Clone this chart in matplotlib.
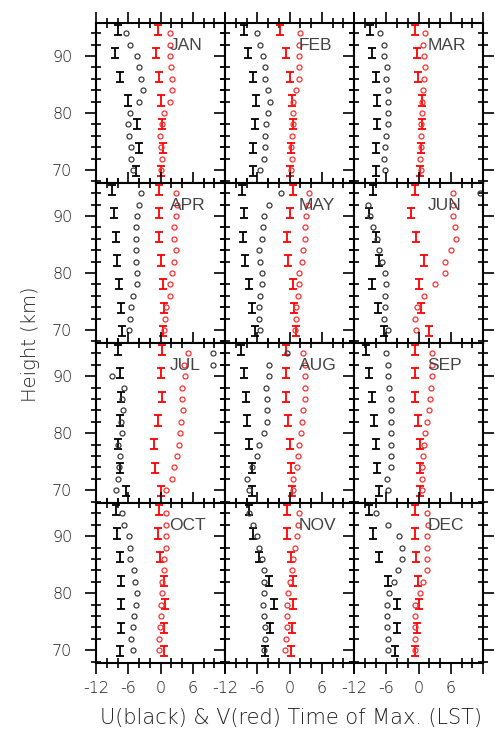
import matplotlib
matplotlib.use('Agg')
import matplotlib.pyplot as plt
from matplotlib.ticker import MultipleLocator

plt.rcParams['font.family'] = ['Liberation Sans', 'DejaVu Sans']

months = ['JAN', 'FEB', 'MAR', 'APR', 'MAY', 'JUN',
          'JUL', 'AUG', 'SEP', 'OCT', 'NOV', 'DEC']

# heights (km) of the circle profiles, top to bottom
heights_circ = [94, 92, 90, 88, 86, 84, 82, 80, 78, 76, 74, 72, 70]
# heights (km) of the I-bar profiles, top to bottom
heights_bar = [94.6, 90.5, 86.3, 82.2, 78.1, 73.9, 69.8]
bar_half_height = 0.9

# U (black) circles: time of maximum (LST), one row per month
u_circ = [
    [-6.5, -5.6, -4.4, -4.0, -3.7, -3.2, -4.0, -5.6, -6.0, -5.9, -5.4, -5.4, -5.2],
    [-6.0, -5.4, -5.0, -4.6, -4.5, -4.0, -3.6, -4.0, -4.4, -4.6, -4.5, -4.8, -5.4],
    [-7.1, -6.5, -6.5, -5.9, -6.0, -5.6, -5.6, -5.7, -5.7, -6.0, -6.2, -6.5, -6.3],
    [-3.7, -4.0, -4.3, -4.5, -4.5, -4.5, -4.5, -4.4, -4.4, -5.2, -5.4, -5.6, -5.9],
    [-1.5, -3.9, -4.8, -5.0, -5.2, -5.6, -5.4, -5.2, -5.1, -5.4, -5.7, -5.7, -5.4],
    [11.4, -9.4, -9.0, -8.5, -7.7, -7.4, -6.8, -6.3, -6.0, -6.2, -6.2, -6.5, -5.7],
    [9.7, 9.7, -9.0, -6.8, -7.1, -6.9, -7.3, -7.1, -8.0, -7.5, -7.7, -8.0, -8.3],
    [-0.5, -3.8, -3.9, -4.4, -4.2, -4.2, -4.2, -4.8, -5.7, -6.0, -7.0, -7.9, -7.5],
    [-6.0, -5.7, -5.6, -5.4, -5.2, -5.2, -5.2, -5.2, -5.2, -5.1, -5.2, -5.9, -5.7],
    [-7.1, -6.7, -5.9, -5.7, -5.6, -4.9, -4.8, -4.4, -4.6, -4.9, -5.1, -5.4, -5.1],
    [-7.6, -6.7, -6.0, -5.7, -5.2, -4.8, -4.8, -4.8, -5.0, -4.8, -4.6, -4.6, -4.8],
    [-8.0, -5.6, -3.7, -3.1, -3.1, -3.8, -4.6, -5.4, -5.9, -5.9, -5.9, -5.7, -5.6],
]

# V (red) circles
v_circ = [
    [1.7, 1.85, 1.85, 2.0, 2.2, 2.2, 1.7, 0.7, 0.2, -0.1, 0.0, 0.2, 0.0],
    [2.0, 1.85, 1.8, 1.8, 1.7, 1.2, 0.7, 0.6, 0.7, 0.4, 0.25, 0.4, 0.3],
    [1.2, 0.9, 1.1, 1.2, 1.1, 0.9, 0.7, 0.6, 0.5, 0.5, 0.4, 0.3, 0.5],
    [2.8, 3.0, 2.9, 2.6, 2.5, 2.8, 2.5, 2.2, 1.85, 1.7, 1.1, 0.9, 0.7],
    [3.6, 3.4, 3.1, 2.9, 2.8, 2.6, 2.4, 1.8, 1.7, 1.5, 1.2, 1.2, 1.0],
    [6.5, 6.5, 6.5, 6.7, 6.9, 6.0, 4.9, 4.9, 3.0, 1.05, -0.3, -0.6, -0.4],
    [5.2, 4.3, 4.6, 4.0, 4.0, 4.2, 3.8, 3.6, 3.4, 3.1, 2.6, 2.2, 1.1],
    [2.6, 2.9, 2.9, 2.8, 2.8, 2.6, 2.4, 2.2, 1.8, 1.5, 1.4, 0.7, 0.7],
    [2.5, 2.6, 2.6, 2.3, 2.2, 1.9, 1.6, 1.2, 1.05, 0.9, 0.6, 0.6, 0.6],
    [1.1, 1.1, 1.1, 1.1, 0.7, 0.7, 0.3, 0.3, 0.1, 0.1, -0.1, -0.2, -0.3],
    [1.7, 1.5, 1.4, 1.05, 0.7, 0.4, 0.1, -0.2, -0.5, -0.5, -0.5, -0.7, -0.8],
    [1.5, 1.7, 1.5, 1.5, 1.5, 1.5, 0.9, 0.3, -0.6, -0.7, -0.6, -0.6, -0.6],
]

# U (black) I-bars
u_bar = [
    [-8.0, -8.5, -7.5, -6.0, -4.4, -4.0, -4.6],
    [-8.4, -7.7, -6.7, -6.2, -6.4, -6.7, -6.8],
    [-9.0, -8.6, -7.9, -7.7, -7.7, -8.0, -7.9],
    [-9.1, -8.6, -8.3, -8.1, -7.7, -7.4, -7.1],
    [-8.8, -8.5, -8.7, -8.2, -7.6, -7.0, -6.5],
    [-8.5, -9.3, -7.9, -7.4, -8.6, -7.5, -6.5],
    [-8.0, -7.5, -7.3, -7.5, -8.0, -7.5, -6.5],
    [-9.1, -8.5, -8.1, -7.9, -7.5, -6.9, -6.9],
    [-9.8, -9.3, -8.6, -8.3, -7.9, -7.7, -7.4],
    [-8.3, -8.1, -7.5, -7.3, -7.3, -7.4, -7.5],
    [-7.6, -6.7, -5.7, -3.9, -2.8, -3.6, -4.6],
    [-9.3, -8.5, -7.3, -5.6, -4.0, -4.0, -4.4],
]

# V (red) I-bars
v_bar = [
    [-0.5, -0.9, -0.2, 0.1, 0.3, 0.4, 0.0],
    [-1.7, -0.6, 0.1, 0.4, 0.6, 0.3, 0.1],
    [-0.6, -0.3, -0.1, 0.6, 0.6, 0.5, 0.3],
    [-0.2, -0.2, -0.2, 0.1, 0.5, 0.7, 0.5],
    [0.7, 0.1, -0.5, -0.2, 0.6, 0.9, 1.2],
    [-0.6, -1.4, -0.5, 1.1, 0.0, 0.5, 1.9],
    [0.2, 0.0, 0.3, -0.5, -1.2, -1.1, 0.0],
    [-0.6, -0.7, -0.6, -0.2, 0.1, 0.25, 0.4],
    [-0.6, -0.6, -0.6, -0.1, 0.3, 0.3, 0.3],
    [-0.3, -0.4, -0.1, 0.6, 0.9, 0.7, 0.6],
    [-0.5, -0.5, 0.3, 0.7, 0.7, 0.4, 0.3],
    [-0.6, -0.6, -0.5, -0.1, 0.0, -0.3, -0.6],
]

x_ticks = [-12, -6, 0, 6, 12]
x_ticklabels = ['-12', '-6', '0', '6', '']
y_ticks = [70, 80, 90]
y_ticklabels = ['70', '80', '90']

W, H = 495, 738
fig = plt.figure(figsize=(W / 100, H / 100), dpi=100)

left_px, right_px = 96, 483
top_px, bottom_px = 22.7, 663
pw = (right_px - left_px) / 3.0
ph = (bottom_px - top_px) / 4.0

text_col = '#1e1e1e'
lab_font = ['DejaVu Sans']

for i, m in enumerate(months):
    r, c = divmod(i, 3)
    x0 = (left_px + c * pw) / W
    y0 = 1 - (top_px + (r + 1) * ph) / H
    ax = fig.add_axes([x0, y0, pw / W, ph / H])
    ax.set_xlim(-12, 12)
    ax.set_ylim(67.75, 95.85)

    ax.errorbar(u_bar[i], heights_bar, yerr=bar_half_height, fmt='none',
                ecolor='black', elinewidth=1.3, capsize=2.8, capthick=1.3)
    ax.errorbar(v_bar[i], heights_bar, yerr=bar_half_height, fmt='none',
                ecolor='#ff0000', elinewidth=1.3, capsize=2.8, capthick=1.3)
    ax.plot(u_circ[i], heights_circ, 'o', mfc='none', mec='#3a3a3a',
            ms=3.6, mew=0.9, ls='none')
    ax.plot(v_circ[i], heights_circ, 'o', mfc='none', mec='#ff3030',
            ms=3.6, mew=0.9, ls='none')

    ax.text(0.57, 0.86, m, transform=ax.transAxes, fontsize=12.5,
            color='#444444', ha='left', va='center')

    ax.set_xticks(x_ticks)
    ax.xaxis.set_minor_locator(MultipleLocator(2))
    ax.set_yticks(y_ticks)
    ax.yaxis.set_minor_locator(MultipleLocator(2))
    ax.tick_params(which='both', top=True, right=True, width=1.2,
                   color='black')
    ax.tick_params(which='major', direction='out', length=8)
    ax.tick_params(which='minor', direction='inout', length=7)
    for s in ax.spines.values():
        s.set_linewidth(1.5)

    if r == 3:
        ax.set_xticklabels(x_ticklabels, fontsize=11.5, color=text_col,
                           family=lab_font, fontweight='light')
    else:
        ax.set_xticklabels([])
    if c == 0:
        ax.set_yticklabels(y_ticklabels, fontsize=11.5, color=text_col,
                           family=lab_font, fontweight='light')
    else:
        ax.set_yticklabels([])
    ax.tick_params(axis='x', pad=5)
    ax.tick_params(axis='y', pad=9)

fig.text(30 / W, 1 - 344 / H, 'Height (km)', rotation=90, fontsize=14,
         color=text_col, ha='center', va='center', family=lab_font,
         fontweight='light')
fig.text(291 / W, 1 - 718 / H, 'U(black) & V(red) Time of Max. (LST)',
         fontsize=15, color=text_col, ha='center', va='center',
         family=lab_font, fontweight='light')

fig.savefig('out.png', dpi=100)
